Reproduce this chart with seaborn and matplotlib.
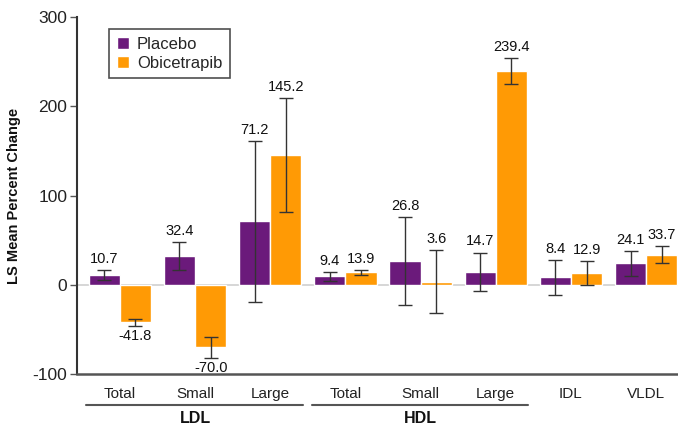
import matplotlib
matplotlib.use("Agg")
import matplotlib.pyplot as plt
import matplotlib.transforms as mtransforms
import seaborn as sns
import pandas as pd

# Lipoprotein subclasses (x order) and their tick labels
subclasses = ["LDL Total", "LDL Small", "LDL Large", "HDL Total", "HDL Small",
              "HDL Large", "IDL", "VLDL"]
tick_labels = ["Total", "Small", "Large", "Total", "Small", "Large", "IDL", "VLDL"]
treatments = ["Placebo", "Obicetrapib"]

# LS mean percent change and error half-widths
placebo = [10.7, 32.4, 71.2, 9.4, 26.8, 14.7, 8.4, 24.1]
obicetrapib = [-41.8, -70.0, 145.2, 13.9, 3.6, 239.4, 12.9, 33.7]
placebo_err = [5.5, 16.0, 90.0, 4.5, 49.5, 21.5, 19.5, 14.0]
obicetrapib_err = [4.0, 12.0, 64.0, 3.0, 35.5, 14.5, 13.5, 9.5]

# Bracketed groups under the axis: (label, first index, last index)
groups = [("LDL", 0, 2), ("HDL", 3, 5)]

colors = {"Placebo": "#6B1A7B", "Obicetrapib": "#FF9A05"}
narrow = ["Liberation Sans Narrow", "Liberation Sans", "DejaVu Sans"]

sns.set_theme(style="white")
plt.rcParams["font.family"] = ["Liberation Sans", "DejaVu Sans"]
plt.rcParams["axes.unicode_minus"] = False

df = pd.DataFrame({
    "subclass": subclasses * 2,
    "treatment": ["Placebo"] * len(subclasses) + ["Obicetrapib"] * len(subclasses),
    "value": placebo + obicetrapib,
})
errs = {"Placebo": placebo_err, "Obicetrapib": obicetrapib_err}

fig = plt.figure(figsize=(6.78, 4.30), dpi=100)
ax = fig.add_axes([0.1136, 0.130, 0.886, 0.830])

sns.barplot(data=df, x="subclass", y="value", hue="treatment", order=subclasses,
            hue_order=treatments, palette=colors, width=0.83, errorbar=None,
            saturation=1, ax=ax, zorder=2)

ax.axhline(0, color="#d0d0d0", lw=1.2, zorder=1)

for container, name in zip(ax.containers, treatments):
    for bar, val, err in zip(container, df.loc[df.treatment == name, "value"], errs[name]):
        xc = bar.get_x() + bar.get_width() / 2
        ax.errorbar(xc, val, yerr=err, fmt="none", ecolor="#333333", elinewidth=1,
                    capsize=5, capthick=1, zorder=3)
        if val >= 0:
            ax.annotate(f"{val:.1f}", (xc, val + err), xytext=(0, 3),
                        textcoords="offset points", ha="center", va="bottom",
                        fontsize=10.5, family=narrow, color="#111111")
        else:
            ax.annotate(f"{val:.1f}", (xc, val - err), xytext=(0, -2),
                        textcoords="offset points", ha="center", va="top",
                        fontsize=10.5, family=narrow, color="#111111")

ax.set_xlim(-0.57, 7.42)
ax.set_ylim(-100, 300)
ax.set_yticks([-100, 0, 100, 200, 300])
ax.set_xticks(range(len(subclasses)))
ax.set_xticklabels(tick_labels, family=narrow, fontsize=11, color="#222222")
ax.tick_params(axis="x", length=0, pad=9)
ax.tick_params(axis="y", length=5, width=1, color="#555555", labelsize=12.5,
               labelcolor="#222222", pad=2, left=True)
ax.set_xlabel("")
ax.set_ylabel("LS Mean Percent Change", fontsize=10.5, fontweight="bold",
              color="#111111", labelpad=8)

for side in ["top", "right"]:
    ax.spines[side].set_visible(False)
ax.spines["left"].set_color("#333333")
ax.spines["left"].set_linewidth(1.5)
ax.spines["bottom"].set_color("#555555")
ax.spines["bottom"].set_linewidth(1.8)

trans = mtransforms.blended_transform_factory(ax.transData, ax.transAxes)
for label, i0, i1 in groups:
    ax.plot([i0 - 0.45, i1 + 0.43], [-0.087, -0.087], transform=trans, color="#555555",
            lw=1.5, clip_on=False)
    ax.text((i0 + i1) / 2, -0.125, label, transform=trans, ha="center", va="center",
            fontsize=11.5, fontweight="bold", color="#111111")

handles, labels = ax.get_legend_handles_labels()
leg = ax.legend(handles, labels, loc="upper left", bbox_to_anchor=(0.04, 0.99),
                frameon=True, fancybox=False, edgecolor="#222222", fontsize=12,
                handlelength=0.7, handleheight=0.7, handletextpad=0.5,
                borderpad=0.45, labelspacing=0.25)
leg.get_frame().set_linewidth(1.2)

fig.savefig("out.png", dpi=100)
